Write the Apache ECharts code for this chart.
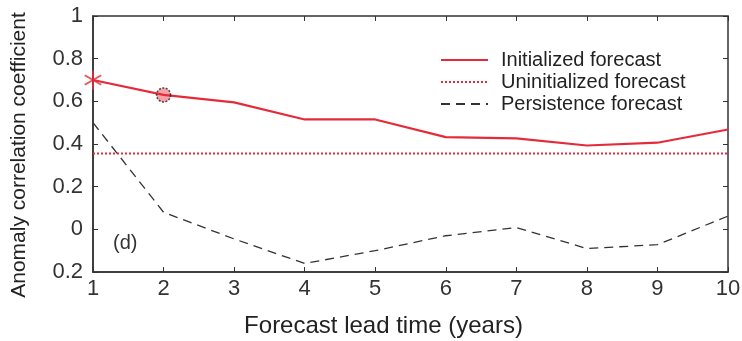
<!DOCTYPE html>
<html>
<head>
<meta charset="utf-8">
<script src="https://cdn.jsdelivr.net/npm/echarts@6/dist/echarts.min.js"></script>
<style>
  html, body { margin: 0; padding: 0; background: #fff; }
  #chart { width: 742px; height: 341px; }
</style>
</head>
<body>
<div id="chart"></div>
<script>
// 数据
var leadYears = [1, 2, 3, 4, 5, 6, 7, 8, 9, 10]
var initialized = [0.70, 0.63, 0.595, 0.515, 0.515, 0.432, 0.426, 0.393, 0.406, 0.468]
var uninitialized = [0.355, 0.355, 0.355, 0.355, 0.355, 0.355, 0.355, 0.355, 0.355, 0.355]
var persistence = [0.50, 0.08, -0.045, -0.16, -0.10, -0.03, 0.008, -0.09, -0.072, 0.062]
var yTicks = [-0.2, 0, 0.2, 0.4, 0.6, 0.8, 1]
var yTickText = ['0.2', '0', '0.2', '0.4', '0.6', '0.8', '1']

var red = '#e52b3a'
var font = 'Liberation Sans, Arial, sans-serif'

function pairs(ys) {
  return leadYears.map(function (x, i) { return [x, ys[i]] })
}

var chart = echarts.init(document.getElementById('chart'))
var option = {
  animation: false,
  backgroundColor: '#fff',
  grid: {
    left: 93, right: 14, top: 16, bottom: 69, outerBoundsMode: 'none',
    show: true, borderColor: '#333', borderWidth: 1.5
  },
  legend: {
    orient: 'vertical',
    left: 435, top: 45,
    itemWidth: 47, itemHeight: 14, itemGap: 2,
    itemStyle: { opacity: 0 },
    textStyle: { fontFamily: font, fontSize: 20, lineHeight: 20, color: '#222', padding: [0, 0, 0, 8] },
    data: ['Initialized forecast', 'Uninitialized forecast', 'Persistence forecast']
  },
  xAxis: [{
    type: 'value', min: 1, max: 10, interval: 1,
    name: 'Forecast lead time (years)', nameLocation: 'middle', nameGap: 42,
    nameTextStyle: { fontFamily: font, fontSize: 24, color: '#222', padding: [0, 54, 0, 0] },
    axisLine: { onZero: false, lineStyle: { color: '#333', width: 1.5 } },
    axisTick: { inside: true, length: 5, lineStyle: { color: '#333' } },
    axisLabel: { fontFamily: font, fontSize: 22, color: '#333', margin: 6 },
    splitLine: { show: false }
  }, {
    type: 'value', min: 1, max: 10, interval: 1, position: 'top',
    axisLine: { show: false, onZero: false },
    axisTick: { inside: true, length: 5, lineStyle: { color: '#333' } },
    axisLabel: { show: false }, splitLine: { show: false }
  }],
  yAxis: [{
    type: 'value', min: -0.2, max: 1, interval: 0.2,
    axisLine: { onZero: false, lineStyle: { color: '#333', width: 1.5 } },
    axisTick: { inside: true, length: 5, lineStyle: { color: '#333' } },
    axisLabel: {
      fontFamily: font, fontSize: 22, color: '#333', margin: 10,
      formatter: function (v) {
        var i = yTicks.findIndex(function (t) { return Math.abs(t - v) < 1e-6 })
        return i >= 0 ? yTickText[i] : ''
      }
    },
    splitLine: { show: false }
  }, {
    type: 'value', min: -0.2, max: 1, interval: 0.2, position: 'right',
    axisLine: { show: false, onZero: false },
    axisTick: { inside: true, length: 5, lineStyle: { color: '#333' } },
    axisLabel: { show: false }, splitLine: { show: false }
  }],
  graphic: [{
    type: 'text', left: 113, top: 233,
    style: { text: '(d)', fontFamily: font, fontSize: 20, fill: '#333' }
  }, {
    // 纵轴标题
    type: 'text', x: 19, y: 155, rotation: Math.PI / 2,
    style: { text: 'Anomaly correlation coefficient', fontFamily: font, fontSize: 21, fill: '#222', align: 'center', verticalAlign: 'middle' }
  }],
  series: [{
    name: 'Initialized forecast', type: 'line', data: pairs(initialized), clip: false,
    symbol: 'none', lineStyle: { color: red, width: 2.2 }, itemStyle: { color: red }, z: 5
  }, {
    name: 'Uninitialized forecast', type: 'line', data: pairs(uninitialized),
    symbol: 'none', lineStyle: { color: red, width: 2, type: [2, 2] }, itemStyle: { color: red }
  }, {
    name: 'Persistence forecast', type: 'line', data: pairs(persistence),
    symbol: 'none', lineStyle: { color: '#333', width: 1.3, type: [9, 6] }, itemStyle: { color: '#333' }
  }, {
    // 星号标记（三条旋转的细线）
    type: 'scatter', symbol: 'rect', symbolSize: [2, 19], clip: false, zlevel: 1,
    data: [0, 60, -60].map(function (r) {
      return { value: [leadYears[0], initialized[0]], symbolRotate: r }
    }),
    itemStyle: { color: red }, silent: true
  }, {
    type: 'scatter', data: [[leadYears[1], initialized[1]]],
    symbol: 'circle', symbolSize: 14,
    itemStyle: { color: 'rgba(229,43,58,0.55)', borderColor: '#222', borderWidth: 1.5, borderType: [2, 1.5] }, z: 6, silent: true
  }]
}
chart.setOption(option)

window.addEventListener('resize', function () {
  chart.resize()
})
</script>
</body>
</html>
